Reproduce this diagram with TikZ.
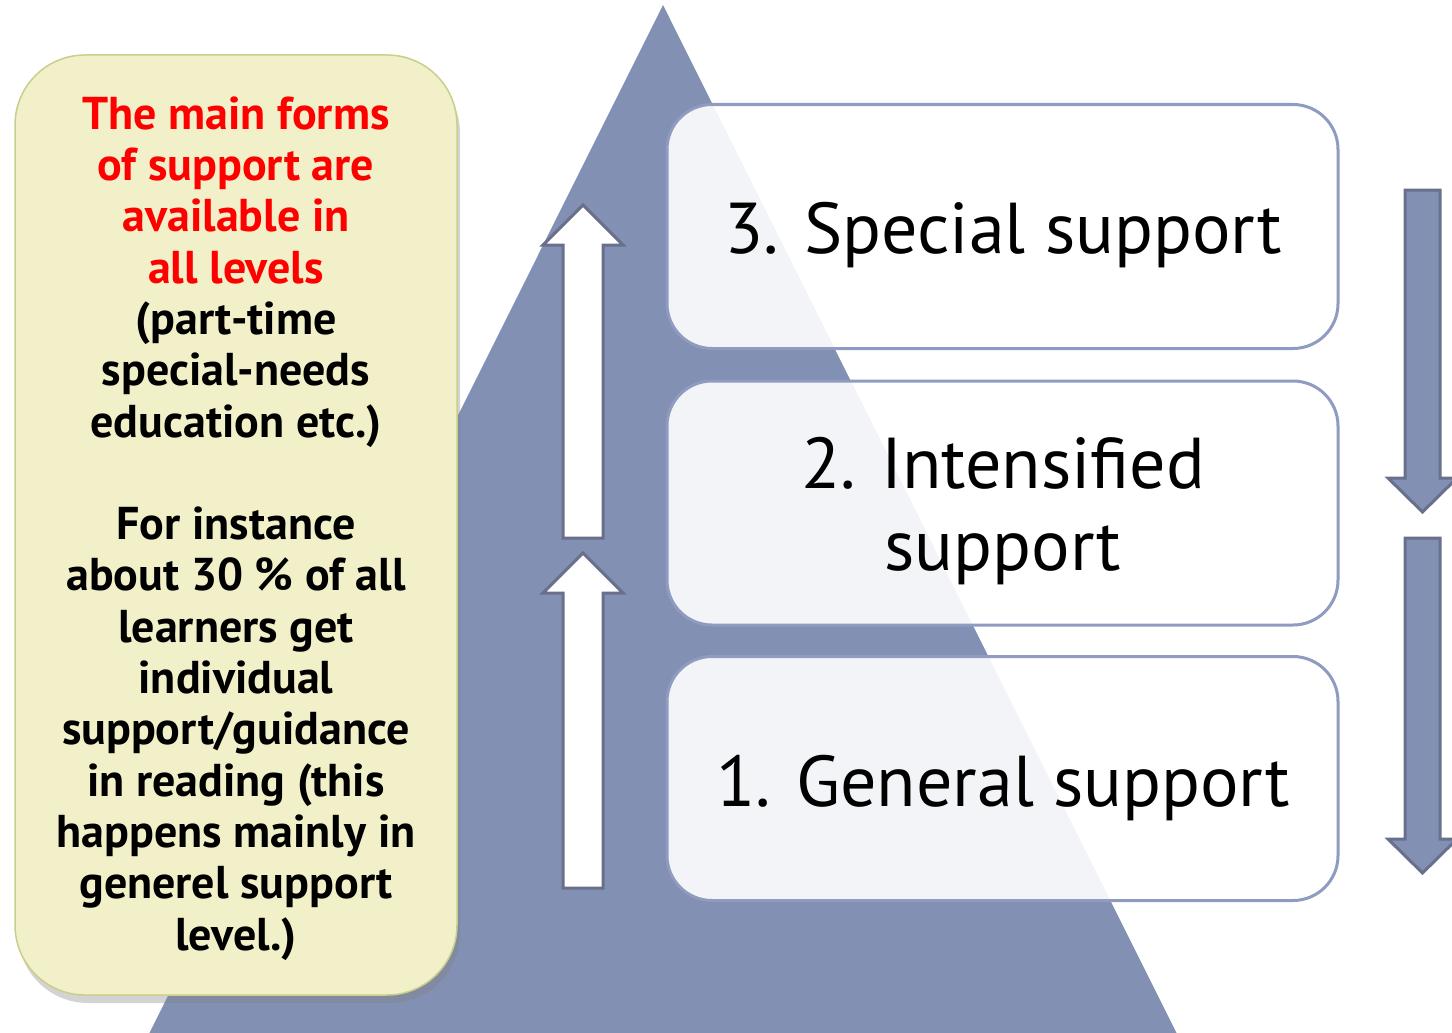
\documentclass[tikz,border=0pt]{standalone}
\usepackage{fontspec}
\setmainfont{PT Sans}
\usetikzlibrary{shadows}
\definecolor{pyramid}{RGB}{130,144,179}
\definecolor{arrowline}{RGB}{105,112,140}
\definecolor{levelline}{RGB}{143,155,192}
\definecolor{notefill}{RGB}{242,240,200}
\definecolor{noteline}{RGB}{200,206,140}
\tikzset{
  level/.style={draw=levelline, line width=3pt, fill=white, fill opacity=0.9,
    rounded corners=45pt, minimum width=671pt, minimum height=244pt},
  leveltext/.style={anchor=base, align=center, inner sep=0pt,
    font=\fontsize{72}{82}\selectfont},
  note/.style={draw=noteline, line width=1.5pt, fill=notefill, rounded corners=70pt,
    minimum width=442pt, minimum height=940pt,
    drop shadow={opacity=0.35, shadow xshift=3pt, shadow yshift=-8pt}},
  notetext/.style={anchor=base, align=center, inner sep=0pt,
    font=\fontsize{46}{51.3}\selectfont\bfseries},
  uparr/.style={draw=arrowline, line width=3pt, fill=white, line join=miter},
  downarr/.style={draw=arrowline, line width=3pt, fill=pyramid, line join=miter}
}
\begin{document}
\begin{tikzpicture}[x=1pt, y=-1pt, line join=round]
  \useasboundingbox (0,0) rectangle (1452,1033);
  \begin{scope}
    \clip (0,0) rectangle (1452,1033);
    % pyramid
    \fill[pyramid] (663,5) -- (1190,1060) -- (136,1060) -- cycle;
    % note on the left (base = last line)
    \node[note] (note) at (236,525) {};
    \node[notetext] (notetxt) at (236,950) {%
      \textcolor{red}{The main forms}\\ \textcolor{red}{of support are}\\
      \textcolor{red}{available in}\\ \textcolor{red}{all levels}\\
      (part-time\\ special-needs\\ education etc.)\\[51.3pt]
      For instance\\ about 30 \% of all\\ learners get\\ individual\\
      support/guidance\\ in reading (this\\ happens mainly in\\
      generel support\\ level.)};
    % arrows going up
    \foreach \tip/\bot in {205/538, 553/888}
      \draw[uparr] (583,\tip) -- (623,\tip+40) -- (603,\tip+40) -- (603,\bot)
        -- (563,\bot) -- (563,\tip+40) -- (543,\tip+40) -- cycle;
    % the three levels
    \node[level] (lv3) at (1002.5,226.5) {};
    \node[level] (lv2) at (1002.5,503) {};
    \node[level] (lv1) at (1002.5,778.5) {};
    \node[leveltext] (lv3txt) at (1003,253) {3. Special support};
    \node[leveltext] (lv2txt) at (1003,570) {2. Intensified\\ support};
    \node[leveltext] (lv1txt) at (1003,806) {1. General support};
    % arrows going down
    \foreach \top/\tip in {190/512, 538/873}
      \draw[downarr] (1405,\top) -- (1440,\top) -- (1440,\tip-34) -- (1457,\tip-34)
        -- (1422.5,\tip) -- (1388,\tip-34) -- (1405,\tip-34) -- cycle;
  \end{scope}
\end{tikzpicture}
\end{document}
